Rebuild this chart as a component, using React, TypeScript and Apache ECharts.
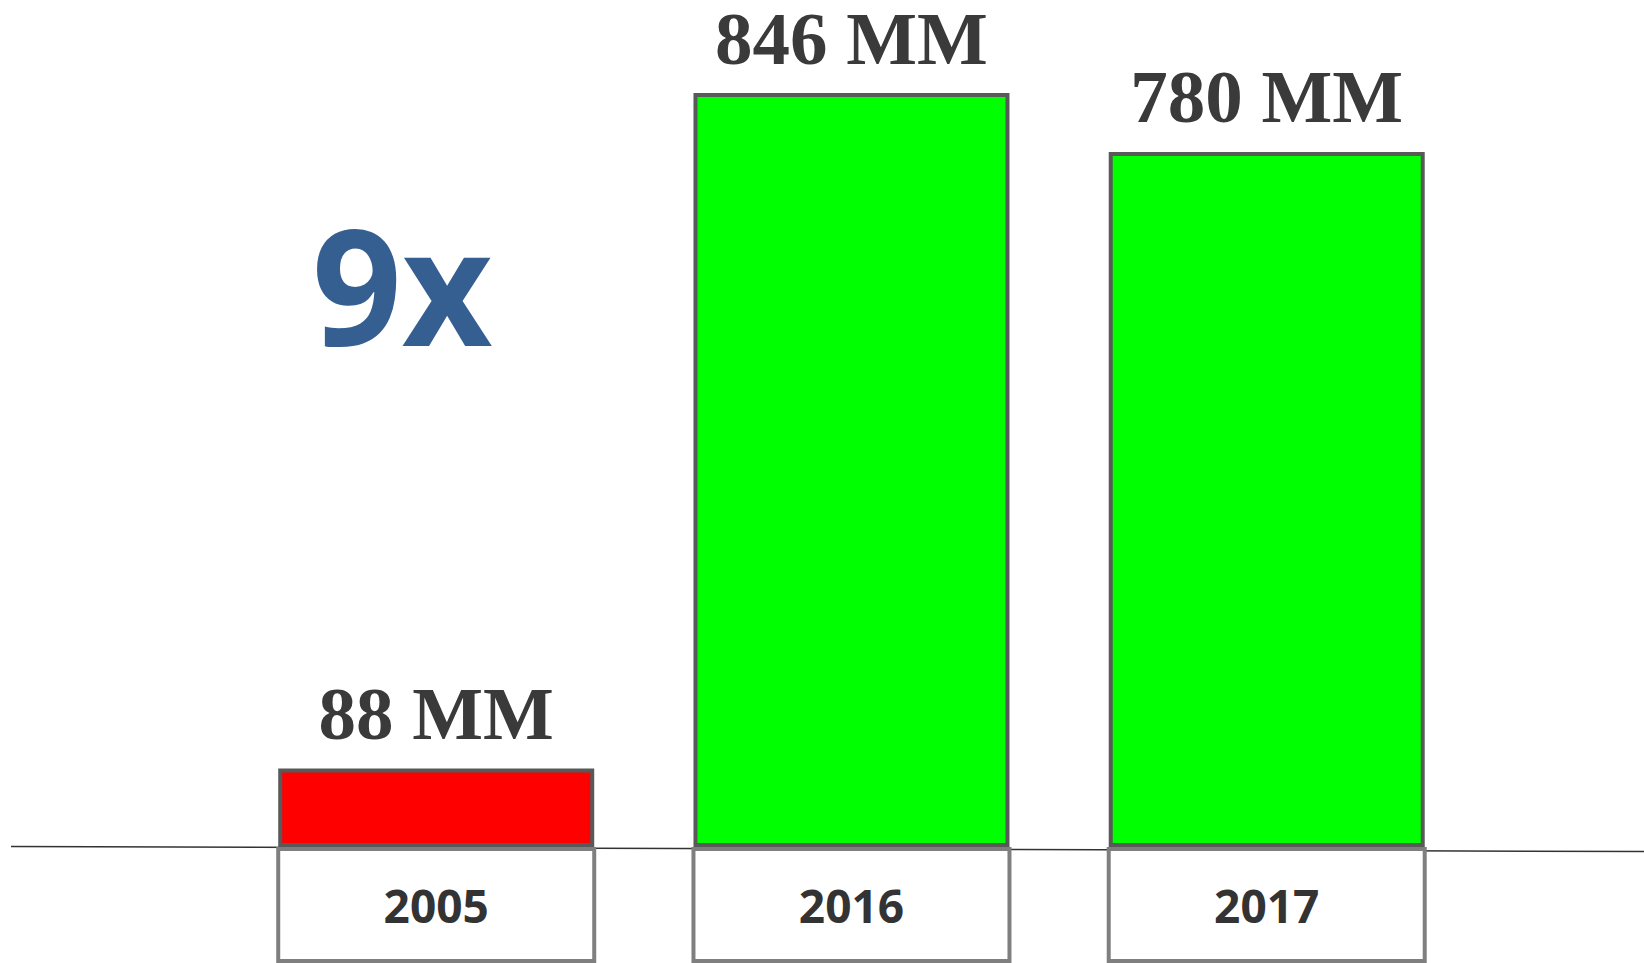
import React, { useEffect, useRef } from "react";
import * as echarts from "echarts";

const categories = ["2005", "2016", "2017"];
const values = [88, 846, 780];
const barColors = ["#ff0000", "#00ff00", "#00ff00"];
const unit = "MM";
const multiplier = "9x";

export default function App() {
  const ref = useRef<HTMLDivElement>(null);
  useEffect(() => {
    document.body.style.margin = "0";
    const chart = echarts.init(ref.current!, null, { renderer: "svg" });
    chart.setOption({
      animation: false,
      backgroundColor: "#ffffff",
      grid: { left: 228.6, width: 1245.75, top: 45, bottom: 115 },
      xAxis: {
        type: "category",
        data: categories,
        axisLine: { show: false },
        axisTick: { show: false },
        axisLabel: {
          interval: 0,
          margin: 4,
          formatter: (v: string) => `{box|${v}}`,
          rich: {
            box: {
              width: 312,
              height: 108,
              lineHeight: 108,
              align: "center",
              backgroundColor: "#ffffff",
              borderColor: "#7f7f80",
              borderWidth: 4,
              fontFamily: "Open Sans",
              fontWeight: "bold",
              fontSize: 46,
              color: "#333333",
            },
          },
        },
      },
      yAxis: {
        type: "value",
        min: 0,
        max: 900,
        show: false,
        splitLine: { show: false },
      },
      graphic: [
        {
          type: "line",
          shape: { x1: 11, y1: 846.5, x2: 1644, y2: 851.5 },
          style: { stroke: "#333333", lineWidth: 1.5 },
          z: -1,
        },
        {
          type: "text",
          x: 312,
          y: 283,
          scaleX: 0.97,
          style: {
            text: multiplier,
            font: 'bold 162px "Open Sans"',
            fill: "#365F91",
            align: "left",
            verticalAlign: "middle",
          },
        },
      ],
      series: [
        {
          type: "bar",
          barWidth: 316,
          data: values.map((v, i) => ({
            value: v,
            itemStyle: { color: barColors[i] },
          })),
          itemStyle: { borderColor: "#595959", borderWidth: 4 },
          label: {
            show: true,
            position: "top",
            distance: 25,
            lineHeight: 60,
            formatter: (p: any) => `${p.value} ${unit}`,
            fontFamily: "Liberation Serif",
            fontWeight: "bold",
            fontSize: 75,
            color: "#3a3a3a",
          },
          z: 3,
        },
      ],
    });
    return () => chart.dispose();
  }, []);
  return (
    <div
      ref={ref}
      style={{ position: "absolute", left: 0, top: 0, width: 1644, height: 963 }}
    />
  );
}
